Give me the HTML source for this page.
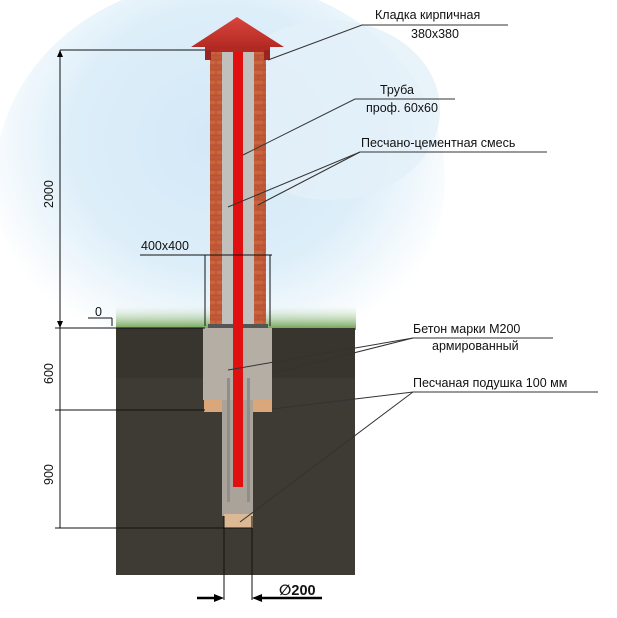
<!DOCTYPE html>
<html><head><meta charset="utf-8"><style>
html,body{margin:0;padding:0;background:#fff;width:617px;height:618px;overflow:hidden}
svg{display:block}
text{font-family:"Liberation Sans","DejaVu Sans",sans-serif;font-size:12.5px;fill:#111}
</style></head><body>
<svg width="617" height="618" viewBox="0 0 617 618" xmlns="http://www.w3.org/2000/svg">
<defs>
<radialGradient id="sky" cx="0.5" cy="0.4" r="0.55">
<stop offset="0" stop-color="#d3e8f7"/><stop offset="0.6" stop-color="#ddeef9"/><stop offset="1" stop-color="#ffffff"/>
</radialGradient>
<pattern id="brick" width="12" height="10" patternUnits="userSpaceOnUse">
<rect width="12" height="10" fill="#b8502f"/>
<rect x="0.5" y="0.5" width="11" height="4" fill="#c9643c"/>
<rect x="-5.5" y="5.5" width="11" height="4" fill="#c0583a"/>
<rect x="6.5" y="5.5" width="11" height="4" fill="#c0583a"/>
</pattern>
<linearGradient id="roof" x1="0" y1="0" x2="0" y2="1"><stop offset="0" stop-color="#d8453c"/><stop offset="1" stop-color="#b52a25"/></linearGradient>
<linearGradient id="grass" x1="0" y1="0" x2="0" y2="1"><stop offset="0" stop-color="#cfe3c8" stop-opacity="0"/><stop offset="1" stop-color="#5f9a40"/></linearGradient>
</defs>
<rect width="617" height="618" fill="#fff"/>
<ellipse cx="220" cy="180" rx="225" ry="200" fill="url(#sky)"/>
<ellipse cx="330" cy="110" rx="110" ry="90" fill="#e4f0f9" opacity="0.8"/>
<rect x="116" y="306" width="240" height="24" fill="url(#grass)"/>
<rect x="116" y="328" width="239" height="247" fill="#3e3a34"/>
<rect x="116" y="328" width="239" height="50" fill="#2f2a25" opacity="0.35"/>
<rect x="203" y="328" width="69" height="72" fill="#b5aea4"/>
<rect x="222" y="400" width="31" height="116" fill="#aaa39a"/>
<rect x="204" y="400" width="18" height="12" fill="#d9a77a"/>
<rect x="253" y="400" width="19" height="12" fill="#d9a77a"/>
<rect x="224" y="514" width="29" height="14" fill="#dcb894"/>
<rect x="227" y="378" width="3" height="124" fill="#8e8e8e"/>
<rect x="247" y="378" width="3" height="124" fill="#8e8e8e"/>
<rect x="210" y="50" width="56" height="278" fill="url(#brick)"/>
<rect x="222" y="50" width="32" height="278" fill="#c2c0bc"/>
<rect x="208" y="324" width="60" height="4" fill="#555"/>
<rect x="233" y="45" width="10" height="442" fill="#e01010"/>
<polygon points="237,17 191,47 284,47" fill="url(#roof)"/>
<rect x="205" y="46" width="65" height="6" fill="#b02a23"/>
<rect x="205" y="50" width="6" height="10" fill="#9a2520"/>
<rect x="264" y="50" width="6" height="10" fill="#9a2520"/>
<g stroke="#111" stroke-width="1" fill="none">
<line x1="60" y1="50" x2="60" y2="528"/>
<line x1="60" y1="50" x2="205" y2="50"/>
<line x1="55" y1="328" x2="205" y2="328"/>
<line x1="55" y1="410" x2="205" y2="410"/>
<line x1="55" y1="528" x2="252" y2="528"/>
<line x1="88" y1="318" x2="112" y2="318"/>
<line x1="112" y1="318" x2="112" y2="326"/>
<line x1="140" y1="255" x2="272" y2="255"/>
<line x1="205" y1="255" x2="205" y2="326"/>
<line x1="270" y1="255" x2="270" y2="326"/>
<line x1="224" y1="516" x2="224" y2="600"/>
<line x1="252" y1="516" x2="252" y2="600"/>
<polyline points="268,60 362,25 508,25" stroke="#333"/>
<polyline points="243,155 355,99 455,99" stroke="#333"/>
<polyline points="228,207 360,152 547,152" stroke="#333"/>
<line x1="258" y1="205" x2="360" y2="152" stroke="#333"/>
<polyline points="228,370 413,338 553,338" stroke="#333"/>
<line x1="274" y1="373" x2="413" y2="338" stroke="#333"/>
<polyline points="272,409 413,392 598,392" stroke="#333"/>
<line x1="240" y1="522" x2="413" y2="392" stroke="#333"/>
</g>
<g stroke="#000" stroke-width="2.5">
<line x1="197" y1="598" x2="220" y2="598"/>
<line x1="256" y1="598" x2="322" y2="598"/>
</g>
<polygon points="224,598 214,594 214,602" fill="#000"/>
<polygon points="252,598 262,594 262,602" fill="#000"/>
<polygon points="60,50 57,57 63,57" fill="#000"/>
<polygon points="60,328 57,321 63,321" fill="#000"/>
<text x="375" y="19">Кладка кирпичная</text>
<text x="411" y="38">380x380</text>
<text x="380" y="94">Труба</text>
<text x="366" y="112">проф. 60x60</text>
<text x="361" y="147">Песчано-цементная смесь</text>
<text x="413" y="333">Бетон марки М200</text>
<text x="432" y="350">армированный</text>
<text x="413" y="387">Песчаная подушка 100 мм</text>
<text x="141" y="250">400x400</text>
<text x="95" y="316">0</text>
<text x="279" y="595" style="font-size:14.5px;font-weight:bold">∅200</text>
<text transform="translate(53,208) rotate(-90)">2000</text>
<text transform="translate(53,384) rotate(-90)">600</text>
<text transform="translate(53,485) rotate(-90)">900</text>
</svg>
</body></html>
